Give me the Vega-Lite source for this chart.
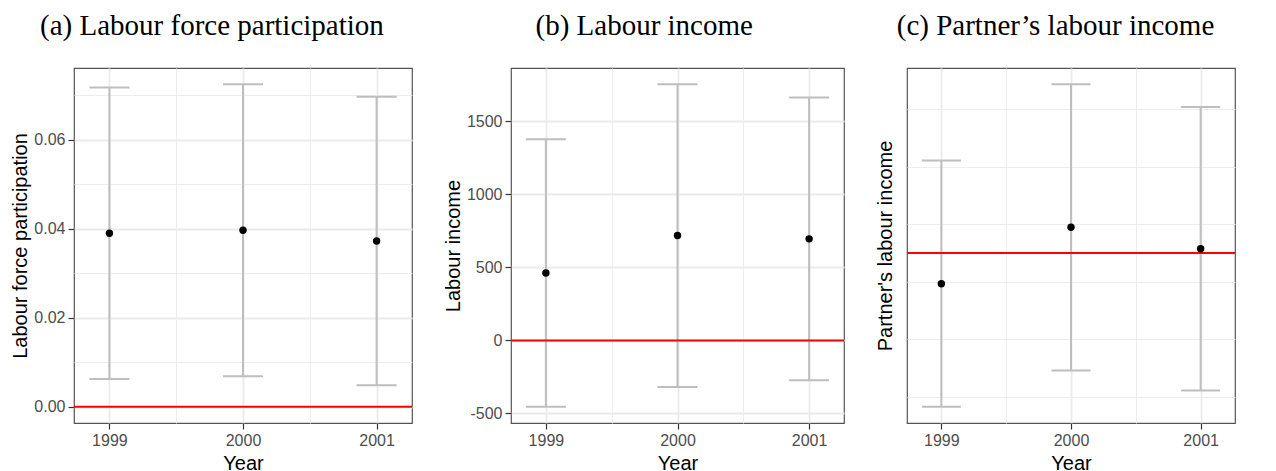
{
  "$schema": "https://vega.github.io/schema/vega-lite/v6.json",
  "padding": {"left": 10, "top": 11, "right": 0, "bottom": 0},
  "background": "white",
  "spacing": 28,
  "datasets": {
    "a": [
      {"year": 1999, "estimate": 0.03902, "lower": 0.00627, "upper": 0.07176},
      {"year": 2000, "estimate": 0.03969, "lower": 0.00688, "upper": 0.0725},
      {"year": 2001, "estimate": 0.03726, "lower": 0.00486, "upper": 0.06966}
    ],
    "b": [
      {"year": 1999, "estimate": 461, "lower": -455, "upper": 1377},
      {"year": 2000, "estimate": 718, "lower": -319, "upper": 1754},
      {"year": 2001, "estimate": 695, "lower": -273, "upper": 1663}
    ],
    "c": [
      {"year": 1999, "estimate": -536, "lower": -2676, "upper": 1605},
      {"year": 2000, "estimate": 445, "lower": -2045, "upper": 2934},
      {"year": 2001, "estimate": 72, "lower": -2392, "upper": 2535}
    ]
  },
  "hconcat": [
    {
      "title": {"text": "(a) Labour force participation"},
      "width": 338,
      "height": 355,
      "data": {"name": "a"},
      "layer": [
        {
          "mark": {"type": "rule", "color": "#BEBEBE", "strokeWidth": 2},
          "encoding": {
            "x": {"field": "year", "type": "quantitative", "scale": {"domain": [1998.735, 2001.265], "nice": false, "zero": false},
                  "axis": {"values": [1999, 1999.5, 2000, 2000.5, 2001], "title": "Year",
                           "labelExpr": "datum.value % 1 == 0 ? format(datum.value, 'd') : ''",
                           "tickOpacity": {"condition": {"test": "datum.value % 1 == 0", "value": 1}, "value": 0},
                           "gridWidth": {"condition": {"test": "datum.value % 1 == 0", "value": 1.8}, "value": 0.9}}},
            "y": {"field": "lower", "type": "quantitative", "scale": {"domain": [-0.003625, 0.076125], "nice": false, "zero": false},
                  "axis": {"values": [0, 0.01, 0.02, 0.03, 0.04, 0.05, 0.06, 0.07], "title": "Labour force participation",
                           "labelExpr": "round(datum.value * 100) % 2 == 0 ? format(datum.value, '.2f') : ''",
                           "tickOpacity": {"condition": {"test": "round(datum.value * 100) % 2 == 0", "value": 1}, "value": 0},
                           "gridWidth": {"condition": {"test": "round(datum.value * 100) % 2 == 0", "value": 1.8}, "value": 0.9}}},
            "y2": {"field": "upper"}
          }
        },
        {
          "mark": {"type": "tick", "orient": "horizontal", "size": 40, "thickness": 2, "color": "#BEBEBE", "opacity": 1},
          "encoding": {
            "x": {"field": "year", "type": "quantitative"},
            "y": {"field": "lower", "type": "quantitative"}
          }
        },
        {
          "mark": {"type": "tick", "orient": "horizontal", "size": 40, "thickness": 2, "color": "#BEBEBE", "opacity": 1},
          "encoding": {
            "x": {"field": "year", "type": "quantitative"},
            "y": {"field": "upper", "type": "quantitative"}
          }
        },
        {
          "data": {"values": [{"z": 0}]},
          "mark": {"type": "rule", "color": "#FF0000", "strokeWidth": 2},
          "encoding": {"y": {"field": "z", "type": "quantitative"}}
        },
        {
          "mark": {"type": "point", "filled": true, "size": 55, "color": "black", "opacity": 1},
          "encoding": {
            "x": {"field": "year", "type": "quantitative"},
            "y": {"field": "estimate", "type": "quantitative"}
          }
        }
      ]
    },
    {
      "title": {"text": "(b) Labour income"},
      "width": 333,
      "height": 355,
      "data": {"name": "b"},
      "layer": [
        {
          "mark": {"type": "rule", "color": "#BEBEBE", "strokeWidth": 2},
          "encoding": {
            "x": {"field": "year", "type": "quantitative", "scale": {"domain": [1998.735, 2001.265], "nice": false, "zero": false},
                  "axis": {"values": [1999, 1999.5, 2000, 2000.5, 2001], "title": "Year",
                           "labelExpr": "datum.value % 1 == 0 ? format(datum.value, 'd') : ''",
                           "tickOpacity": {"condition": {"test": "datum.value % 1 == 0", "value": 1}, "value": 0},
                           "gridWidth": {"condition": {"test": "datum.value % 1 == 0", "value": 1.8}, "value": 0.9}}},
            "y": {"field": "lower", "type": "quantitative", "scale": {"domain": [-565.45, 1864.45], "nice": false, "zero": false},
                  "axis": {"values": [-500, -250, 0, 250, 500, 750, 1000, 1250, 1500, 1750], "title": "Labour income",
                           "labelExpr": "abs(round(datum.value / 250)) % 2 == 1 ? '' : (datum.value < 0 ? '-' + format(-datum.value, 'd') : format(datum.value, 'd'))",
                           "tickOpacity": {"condition": {"test": "abs(round(datum.value / 250)) % 2 == 0", "value": 1}, "value": 0},
                           "gridWidth": {"condition": {"test": "abs(round(datum.value / 250)) % 2 == 0", "value": 1.8}, "value": 0.9}}},
            "y2": {"field": "upper"}
          }
        },
        {
          "mark": {"type": "tick", "orient": "horizontal", "size": 40, "thickness": 2, "color": "#BEBEBE", "opacity": 1},
          "encoding": {
            "x": {"field": "year", "type": "quantitative"},
            "y": {"field": "lower", "type": "quantitative"}
          }
        },
        {
          "mark": {"type": "tick", "orient": "horizontal", "size": 40, "thickness": 2, "color": "#BEBEBE", "opacity": 1},
          "encoding": {
            "x": {"field": "year", "type": "quantitative"},
            "y": {"field": "upper", "type": "quantitative"}
          }
        },
        {
          "data": {"values": [{"z": 0}]},
          "mark": {"type": "rule", "color": "#FF0000", "strokeWidth": 2},
          "encoding": {"y": {"field": "z", "type": "quantitative"}}
        },
        {
          "mark": {"type": "point", "filled": true, "size": 55, "color": "black", "opacity": 1},
          "encoding": {
            "x": {"field": "year", "type": "quantitative"},
            "y": {"field": "estimate", "type": "quantitative"}
          }
        }
      ]
    },
    {
      "title": {"text": "(c) Partner’s labour income"},
      "width": 328,
      "height": 355,
      "data": {"name": "c"},
      "layer": [
        {
          "mark": {"type": "rule", "color": "#BEBEBE", "strokeWidth": 2},
          "encoding": {
            "x": {"field": "year", "type": "quantitative", "scale": {"domain": [1998.735, 2001.265], "nice": false, "zero": false},
                  "axis": {"values": [1999, 1999.5, 2000, 2000.5, 2001], "title": "Year",
                           "labelExpr": "datum.value % 1 == 0 ? format(datum.value, 'd') : ''",
                           "tickOpacity": {"condition": {"test": "datum.value % 1 == 0", "value": 1}, "value": 0},
                           "gridWidth": {"condition": {"test": "datum.value % 1 == 0", "value": 1.8}, "value": 0.9}}},
            "y": {"field": "lower", "type": "quantitative", "scale": {"domain": [-2956.5, 3214.5], "nice": false, "zero": false},
                  "axis": {"values": [-2500, -2000, -1500, -1000, -500, 0, 500, 1000, 1500, 2000, 2500, 3000], "title": "Partner's labour income",
                           "labelOverlap": false,
                           "labelExpr": "abs(round(datum.value / 500)) % 2 == 1 ? '' : (datum.value < 0 ? '-' + format(-datum.value, 'd') : format(datum.value, 'd'))",
                           "tickOpacity": {"condition": {"test": "abs(round(datum.value / 500)) % 2 == 0", "value": 1}, "value": 0},
                           "gridWidth": {"condition": {"test": "abs(round(datum.value / 500)) % 2 == 0", "value": 1.8}, "value": 0.9}}},
            "y2": {"field": "upper"}
          }
        },
        {
          "mark": {"type": "tick", "orient": "horizontal", "size": 39, "thickness": 2, "color": "#BEBEBE", "opacity": 1},
          "encoding": {
            "x": {"field": "year", "type": "quantitative"},
            "y": {"field": "lower", "type": "quantitative"}
          }
        },
        {
          "mark": {"type": "tick", "orient": "horizontal", "size": 39, "thickness": 2, "color": "#BEBEBE", "opacity": 1},
          "encoding": {
            "x": {"field": "year", "type": "quantitative"},
            "y": {"field": "upper", "type": "quantitative"}
          }
        },
        {
          "data": {"values": [{"z": 0}]},
          "mark": {"type": "rule", "color": "#FF0000", "strokeWidth": 2},
          "encoding": {"y": {"field": "z", "type": "quantitative"}}
        },
        {
          "mark": {"type": "point", "filled": true, "size": 55, "color": "black", "opacity": 1},
          "encoding": {
            "x": {"field": "year", "type": "quantitative"},
            "y": {"field": "estimate", "type": "quantitative"}
          }
        }
      ]
    }
  ],
  "config": {
    "view": {"stroke": "#555555", "strokeWidth": 1.2},
    "title": {"font": "Liberation Serif", "fontSize": 29, "fontWeight": "normal", "color": "#000000", "anchor": "middle", "frame": "bounds", "offset": 27},
    "axis": {
      "labelFont": "Liberation Sans", "labelFontSize": 16, "labelColor": "#4D4D4D", "labelOverlap": false,
      "titleFont": "Liberation Sans", "titleFontSize": 20, "titleColor": "#000000", "titleFontWeight": "normal",
      "tickColor": "#333333", "tickSize": 6, "tickWidth": 1.2, "labelPadding": 3, "titlePadding": 3,
      "domain": false, "grid": true, "gridColor": "#EBEBEB"
    },
    "axisX": {"titlePadding": 5}
  }
}
